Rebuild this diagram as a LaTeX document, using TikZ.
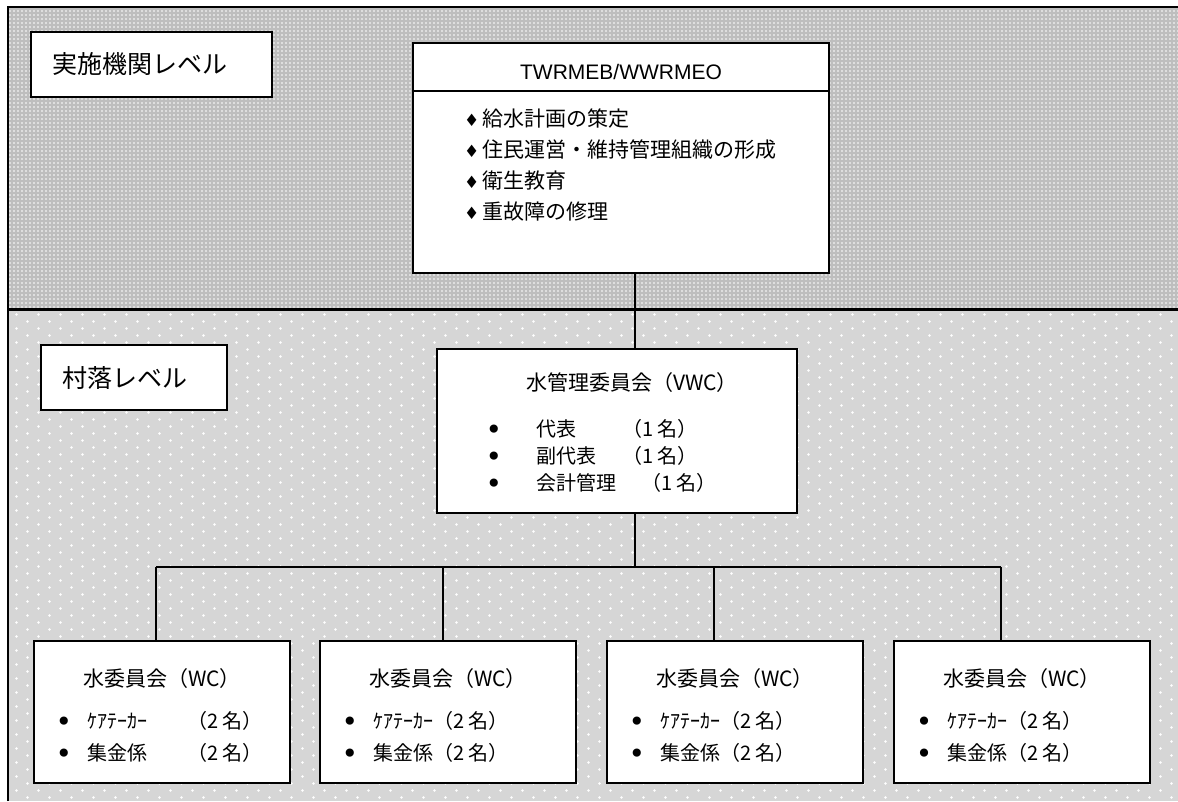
\documentclass[tikz,border=0pt]{standalone}
\usepackage{fontspec}
\setmainfont{Noto Sans CJK JP}
\newfontfamily\arialfont{Liberation Sans}
\newfontfamily\symbfont{DejaVu Sans}
\usetikzlibrary{patterns.meta}
\definecolor{agencyband}{RGB}{190,190,190}
\definecolor{villageband}{RGB}{214,214,214}
\tikzdeclarepattern{name=finegrid,type=uncolored,bottom left={(-.5pt,-.5pt)},
 top right={(4.5pt,4.5pt)},tile size={(4pt,4pt)},code={\fill (2pt,2pt) circle (.8pt);}}
\tikzdeclarepattern{name=sparkle,type=uncolored,bottom left={(-1pt,-1pt)},
 top right={(23pt,15pt)},tile size={(22pt,14pt)},
 code={\fill (5.5pt,3.5pt) circle (1.4pt);\fill (16.5pt,10.5pt) circle (1.4pt);}}
\newcommand\padname[2]{\ifdim#1>0pt\makebox[#1][l]{#2}\else#2\fi}
\tikzset{box/.style={draw,line width=2.4pt,fill=white,inner sep=0pt},
 link/.style={line width=2.4pt},
 levelbox/.style={box,inner xsep=21pt,align=left,font=\fontsize{25}{25}\selectfont},
 head/.style={font=\fontsize{21}{21}\selectfont,inner sep=0pt},
 entry/.style={font=\fontsize{20}{20}\selectfont,inner sep=0pt},
 dot/.style={font=\symbfont\fontsize{28}{28}\selectfont,inner sep=0pt}}

\begin{document}
\begin{tikzpicture}[x={(1pt,0pt)},y={(0pt,-1pt)}]
\useasboundingbox (0,0) rectangle (1178,801);
% two level bands
\fill[agencyband] (8,7) rectangle (1178,309);
\fill[pattern=finegrid,pattern color=white] (8,7) rectangle (1178,309);
\fill[villageband] (8,309) rectangle (1178,801);
\fill[pattern=sparkle,pattern color=white] (8,309) rectangle (1178,801);
\draw[link] (8,801)--(8,7)--(1178,7);
\draw[line width=3pt] (8,309)--(1178,309);

\node[levelbox,text width=199pt,minimum height=65pt] (agency) at (151.5,64.5) {実施機関レベル};
\node[levelbox,text width=144pt,minimum height=65pt] (village) at (134,377.5) {村落レベル};

\node[box,minimum width=416pt,minimum height=230pt] (twr) at (621,158) {};
\draw[link] (twr.west |- 0,91) -- (twr.east |- 0,91);
\node[head,font=\arialfont\fontsize{21}{21}\selectfont] (twrHead) at (621,72) {TWRMEB/WWRMEO};
\foreach \t [count=\i] in {給水計画の策定,住民運営・維持管理組織の形成,衛生教育,重故障の修理}
  \node[entry,font=\fontsize{21}{21}\selectfont,anchor=base west] (twrItem\i) at (464,95+31*\i)
   {{\symbfont\fontsize{17}{17}\selectfont♦}\,\t};

\node[box,minimum width=360pt,minimum height=164pt] (vwc) at (617,431) {};
\node[head] (vwcHead) at (632,383) {水管理委員会（VWC）};
\foreach \t/\px [count=\i] in {代表/632,副代表/632,会計管理/651} {
  \node[dot,anchor=base] (vwcDot\i) at (494,412+27*\i) {•};
  \node[entry,anchor=base west] (vwcRole\i) at (536,409+27*\i) {\t};
  \node[entry,anchor=base west] (vwcNum\i) at (\px-10,409+27*\i) {（1 名）};
}

\coordinate (hub) at (635,567);
\draw[link] (hub |- twr.south) -- (hub |- vwc.north);
\draw[link] (hub |- vwc.south) -- (hub);
\draw[link] (156,567) -- (1001,567);
\foreach \i/\l/\w/\dx in {1/34/100pt/156,2/320/0pt/443,3/607/0pt/714,4/894/0pt/1001} {
  \node[box,minimum width=256pt,minimum height=142pt] (wc\i) at (\l+128,712) {};
  \coordinate (drop\i) at (\dx,567);
  \draw[link] (drop\i) -- (drop\i |- wc\i.north);
  \node[head] (wcHead\i) at (\l+128,679) {水委員会（WC）};
  \node[dot,anchor=base] (wcDotA\i) at (\l+30,731) {•};
  \node[dot,anchor=base] (wcDotB\i) at (\l+30,763) {•};
  \node[entry,anchor=base west] (wcCare\i) at (\l+53,728) {\padname{\w}{ｹｱﾃｰｶｰ}（2 名）};
  \node[entry,anchor=base west] (wcFee\i) at (\l+53,760) {\padname{\w}{集金係}（2 名）};
}
\end{tikzpicture}
\end{document}
